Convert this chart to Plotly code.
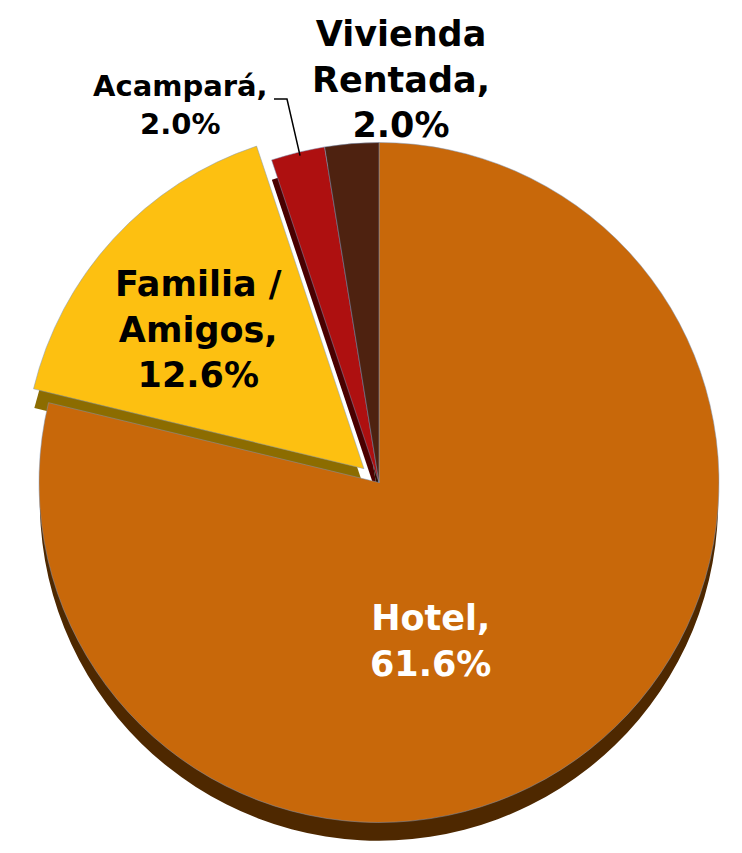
import math
import plotly.graph_objects as go

categories = ["Hotel", "Familia / Amigos", "Acampará", "Vivienda Rentada"]
label_lines = ["Hotel,", "Familia /<br>Amigos,", "Acampará,", "Vivienda<br>Rentada,"]
values = [61.6, 12.6, 2.0, 2.0]
colors = ["#C8680A", "#FDC011", "#AE1010", "#4E2210"]
side_colors = ["#4E2800", "#8C6C00", "#4A0000", "#2A1000"]
text_colors = ["white", "black", "black", "black"]
text_sizes = [35, 35, 29, 35]
pulls = [0, 0.06, 0, 0]

texts = [f"{l}<br>{v:.1f}%" for l, v in zip(label_lines, values)]

W, H = 742, 853
top_px, bot_px = 114.0, 835.0
shift = 20
x_dom = [10.6 / W, 731.4 / W]
y_main = [1 - bot_px / H, 1 - top_px / H]
y_side = [max(0, y_main[0] - shift / H), y_main[1] - shift / H]

# pie geometry (pixels) for the leader line
cx = 378.0
cy = (top_px + bot_px) / 2
r = (x_dom[1] - x_dom[0]) * W / (2 * (1 + max(pulls)))
total = sum(values)
cum = 0
starts = []
for v in values:
    starts.append(cum / total * 2 * math.pi)
    cum += v

fig = go.Figure()
fig.add_trace(go.Pie(
    labels=categories, values=values, sort=False, direction="clockwise",
    rotation=0, pull=pulls, marker=dict(colors=side_colors, line=dict(width=0)),
    textinfo="none", hoverinfo="skip", showlegend=False,
    domain=dict(x=x_dom, y=y_side),
))
fig.add_trace(go.Pie(
    labels=categories, values=values, sort=False, direction="clockwise",
    rotation=0, pull=pulls,
    marker=dict(colors=colors, line=dict(color="#7F97B8", width=0.5)),
    textinfo="none", showlegend=False,
    domain=dict(x=x_dom, y=y_main),
))

# data labels: (x centre, y centre) in pixels
label_pos = [(422, 633), (190, 321), (172, 97), (393, 71)]
for t, (lx, ly), sz, col in zip(texts, label_pos, text_sizes, text_colors):
    fig.add_annotation(
        x=lx / W, y=1 - ly / H, xref="paper", yref="paper",
        text=t, showarrow=False, xanchor="center", yanchor="middle",
        font=dict(family="DejaVu Sans", size=sz, color=col, weight="bold"),
    )

# leader line for Acampará
a = starts[2] + 0.4 * values[2] / total * 2 * math.pi
ex = cx + (r - 2) * math.sin(a)
ey = cy - (r - 2) * math.cos(a)
fig.add_shape(
    type="path", xref="paper", yref="paper",
    path=f"M {266/W},{1-91/H} L {279/W},{1-91/H} L {ex/W},{1-ey/H}",
    line=dict(color="black", width=1.5),
)

fig.update_layout(
    width=W, height=H, margin=dict(l=0, r=0, t=0, b=0),
    paper_bgcolor="white", plot_bgcolor="white",
)
fig.write_html("out.html")
